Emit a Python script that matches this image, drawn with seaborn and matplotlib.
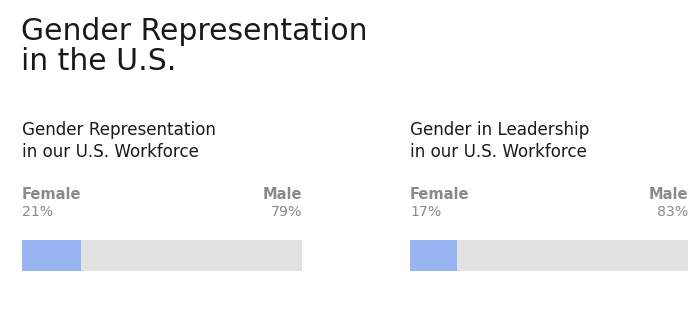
import matplotlib
matplotlib.use("Agg")
import matplotlib.pyplot as plt
import seaborn as sns
import pandas as pd

# Chart content
main_title = "Gender Representation\nin the U.S."
panel_titles = ["Gender Representation\nin our U.S. Workforce",
                "Gender in Leadership\nin our U.S. Workforce"]
female_pct = [21, 17]
male_pct = [79, 83]
group_labels = ["Female", "Male"]

W, H = 700, 318
BLUE = "#98B4F3"
TRACK = "#E2E2E2"
GREY_TXT = "#8A8A8A"
DARK_TXT = "#1A1A1A"

sns.set_theme(style="white")
plt.rcParams["font.family"] = ["DejaVu Sans"]

fig = plt.figure(figsize=(W / 100, H / 100), dpi=100)
fig.patch.set_facecolor("white")


def fx(px):
    return px / W


def fy(py):
    return 1 - py / H


# multi-line texts are anchored at the baseline of their last line
fig.text(fx(21), fy(70), main_title, fontsize=21.5, color=DARK_TXT,
         ha="left", va="baseline", linespacing=1.03)

# pixel extents of each bar track: (left, right)
tracks = [(22, 302), (410, 688)]
bar_top, bar_bottom = 240, 270.5

for i, (x0, x1) in enumerate(tracks):
    # panel title
    fig.text(fx(x0), fy(157), panel_titles[i], fontsize=12.1, color=DARK_TXT,
             ha="left", va="baseline", linespacing=1.32)
    # group names and percentages
    fig.text(fx(x0), fy(199), group_labels[0], fontsize=10.5, color=GREY_TXT,
             ha="left", va="baseline", fontweight="bold")
    fig.text(fx(x1), fy(199), group_labels[1], fontsize=10.5, color=GREY_TXT,
             ha="right", va="baseline", fontweight="bold")
    fig.text(fx(x0), fy(216), f"{female_pct[i]}%", fontsize=10.2,
             color=GREY_TXT, ha="left", va="baseline")
    fig.text(fx(x1), fy(216), f"{male_pct[i]}%", fontsize=10.2,
             color=GREY_TXT, ha="right", va="baseline")

    ax = fig.add_axes([fx(x0), fy(bar_bottom), (x1 - x0) / W,
                       (bar_bottom - bar_top) / H])
    df = pd.DataFrame({
        "row": ["share"],
        "total": [female_pct[i] + male_pct[i]],
        "female": [female_pct[i]],
    })
    sns.barplot(data=df, x="total", y="row", orient="h", color=TRACK,
                width=1.0, ax=ax, saturation=1, linewidth=0)
    sns.barplot(data=df, x="female", y="row", orient="h", color=BLUE,
                width=1.0, ax=ax, saturation=1, linewidth=0)
    ax.set_xlim(0, 100)
    ax.set_ylim(0.5, -0.5)
    ax.set_axis_off()

fig.savefig("out.png", dpi=100, facecolor="white")
